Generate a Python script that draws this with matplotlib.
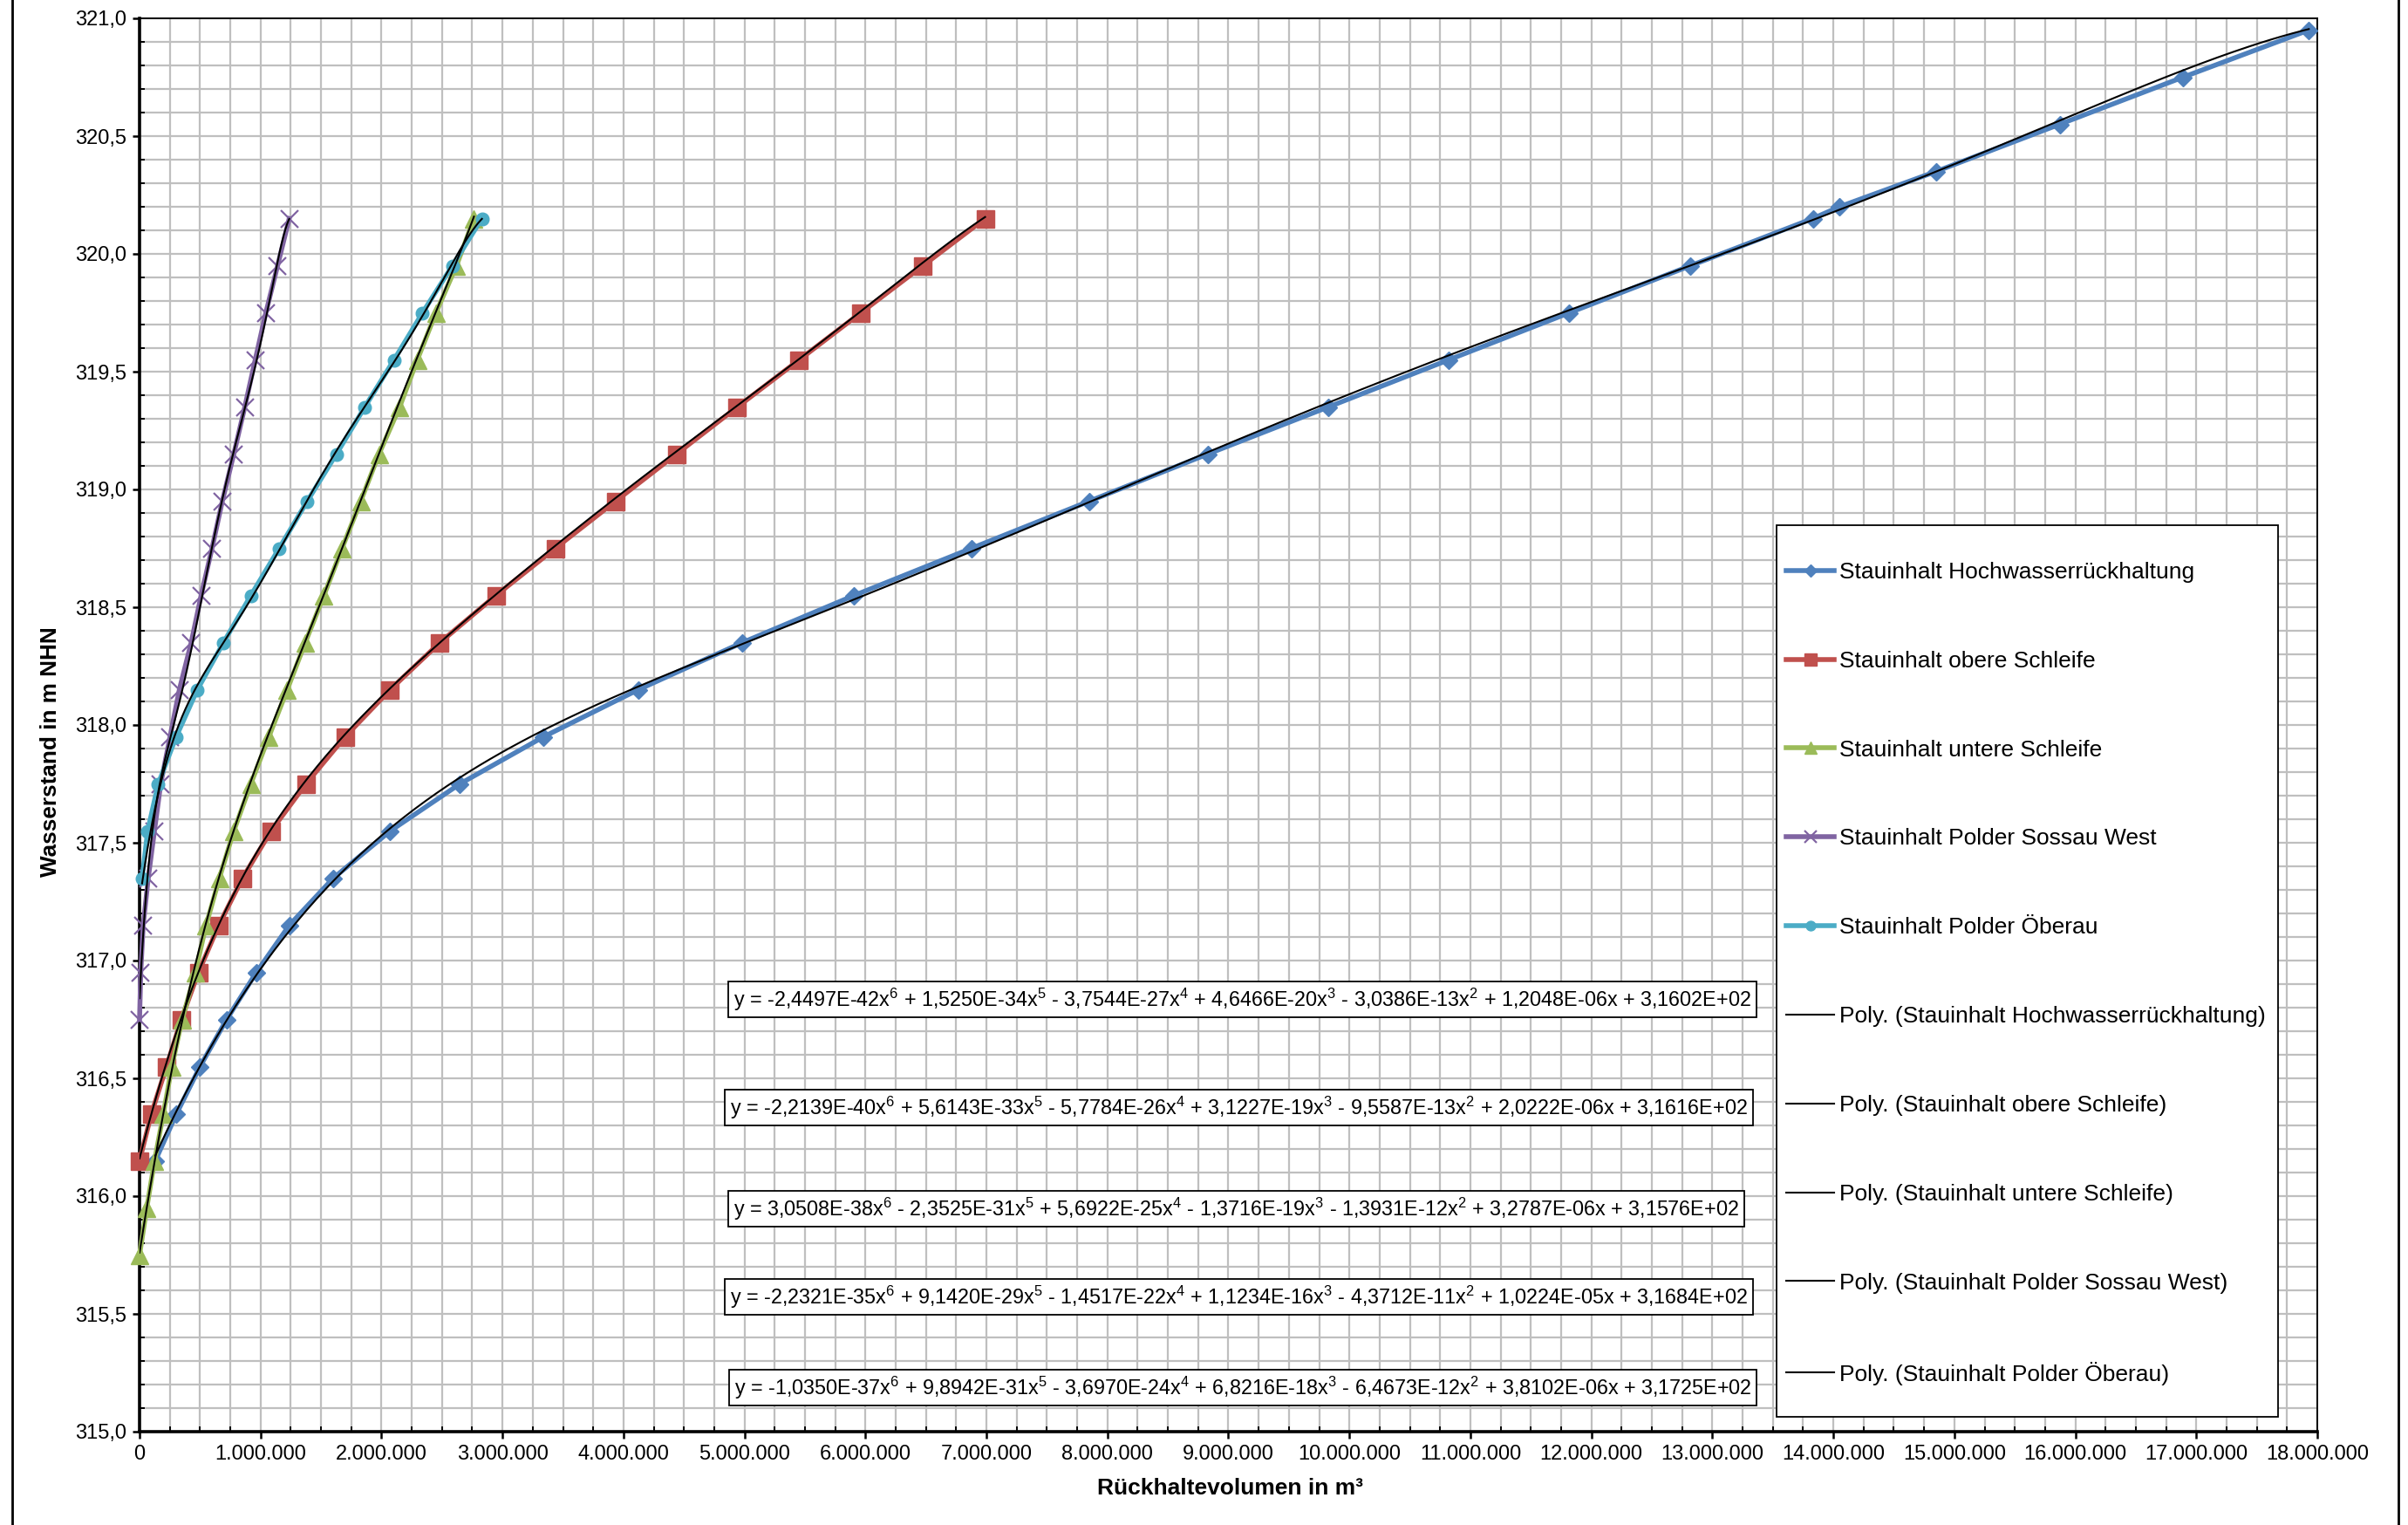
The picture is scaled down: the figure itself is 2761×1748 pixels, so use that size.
import numpy as np
import matplotlib
matplotlib.use("Agg")
import matplotlib.pyplot as plt
from matplotlib import font_manager
from matplotlib.lines import Line2D
from matplotlib.patches import Rectangle
from matplotlib.ticker import FuncFormatter, MultipleLocator

# ---------------------------------------------------------------- fonts
_installed = {f.name for f in font_manager.fontManager.ttflist}
NARROW = "Liberation Sans Narrow" if "Liberation Sans Narrow" in _installed else "Liberation Sans"
EQ_SIZE = 19 if NARROW == "Liberation Sans Narrow" else 16.8
plt.rcParams["font.family"] = ["Liberation Sans", "DejaVu Sans"]
plt.rcParams["mathtext.fontset"] = "custom"
plt.rcParams["mathtext.rm"] = NARROW
plt.rcParams["mathtext.it"] = NARROW

# ---------------------------------------------------------------- data
# Rückhaltevolumen in m³ (x) and Wasserstand in m NHN (y) per storage area
hwr_vol = [0.13e6, 0.306e6, 0.50e6, 0.72e6, 0.966e6, 1.238e6, 1.602e6, 2.072e6,
           2.648e6, 3.34e6, 4.123e6, 4.983e6, 5.907e6, 6.876e6, 7.849e6, 8.828e6,
           9.826e6, 10.82e6, 11.818e6, 12.82e6, 13.83e6, 14.05e6, 14.85e6,
           15.87e6, 16.89e6, 17.93e6]
hwr_wsp = [316.15, 316.35, 316.55, 316.75, 316.95, 317.15, 317.35, 317.55,
           317.75, 317.95, 318.15, 318.35, 318.55, 318.75, 318.95, 319.15,
           319.35, 319.55, 319.75, 319.95, 320.15, 320.20, 320.35, 320.55,
           320.75, 320.95]

obere_vol = [0.0, 0.098e6, 0.223e6, 0.345e6, 0.487e6, 0.655e6, 0.851e6, 1.087e6,
             1.375e6, 1.699e6, 2.072e6, 2.483e6, 2.946e6, 3.436e6, 3.934e6,
             4.437e6, 4.941e6, 5.452e6, 5.962e6, 6.475e6, 6.989e6]
obere_wsp = [316.15, 316.35, 316.55, 316.75, 316.95, 317.15, 317.35, 317.55,
             317.75, 317.95, 318.15, 318.35, 318.55, 318.75, 318.95, 319.15,
             319.35, 319.55, 319.75, 319.95, 320.15]

untere_vol = [0.0, 0.06e6, 0.124e6, 0.197e6, 0.267e6, 0.352e6, 0.461e6, 0.55e6,
              0.66e6, 0.779e6, 0.920e6, 1.069e6, 1.221e6, 1.370e6, 1.524e6,
              1.674e6, 1.828e6, 1.979e6, 2.15e6, 2.296e6, 2.45e6, 2.62e6, 2.764e6]
untere_wsp = [315.75, 315.95, 316.15, 316.35, 316.55, 316.75, 316.95, 317.15,
              317.35, 317.55, 317.75, 317.95, 318.15, 318.35, 318.55, 318.75,
              318.95, 319.15, 319.35, 319.55, 319.75, 319.95, 320.15]

sossau_vol = [0.0, 0.01e6, 0.03e6, 0.072e6, 0.123e6, 0.175e6, 0.252e6, 0.329e6,
              0.427e6, 0.509e6, 0.599e6, 0.684e6, 0.779e6, 0.87e6, 0.956e6,
              1.044e6, 1.141e6, 1.237e6]
sossau_wsp = [316.75, 316.95, 317.15, 317.35, 317.55, 317.75, 317.95, 318.15,
              318.35, 318.55, 318.75, 318.95, 319.15, 319.35, 319.55, 319.75,
              319.95, 320.15]

oberau_vol = [0.021e6, 0.067e6, 0.154e6, 0.303e6, 0.478e6, 0.694e6, 0.920e6,
              1.154e6, 1.386e6, 1.627e6, 1.862e6, 2.103e6, 2.339e6, 2.586e6,
              2.830e6]
oberau_wsp = [317.35, 317.55, 317.75, 317.95, 318.15, 318.35, 318.55, 318.75,
              318.95, 319.15, 319.35, 319.55, 319.75, 319.95, 320.15]

# polynomial trend coefficients (x^6 ... x^0)
hwr_coef = [-2.4497e-42, 1.5250e-34, -3.7544e-27, 4.6466e-20, -3.0386e-13, 1.2048e-06, 3.1602e+02]
obere_coef = [-2.2139e-40, 5.6143e-33, -5.7784e-26, 3.1227e-19, -9.5587e-13, 2.0222e-06, 3.1616e+02]
untere_coef = [3.0508e-38, -2.3525e-31, 5.6922e-25, -1.3716e-19, -1.3931e-12, 3.2787e-06, 3.1576e+02]
sossau_coef = [-2.2321e-35, 9.1420e-29, -1.4517e-22, 1.1234e-16, -4.3712e-11, 1.0224e-05, 3.1684e+02]
oberau_coef = [-1.0350e-37, 9.8942e-31, -3.6970e-24, 6.8216e-18, -6.4673e-12, 3.8102e-06, 3.1725e+02]

names = ["Stauinhalt Hochwasserrückhaltung", "Stauinhalt obere Schleife",
         "Stauinhalt untere Schleife", "Stauinhalt Polder Sossau West",
         "Stauinhalt Polder Öberau"]

x_ticks = np.arange(0, 18_000_001, 1_000_000)
y_ticks = np.arange(315.0, 321.01, 0.5)

# ---------------------------------------------------------------- styles
series = [
    (hwr_vol, hwr_wsp, hwr_coef, "#4F81BD", "D", 10, 1.0),
    (obere_vol, obere_wsp, obere_coef, "#C0504D", "s", 14, 1.0),
    (untere_vol, untere_wsp, untere_coef, "#9BBB59", "^", 14, 1.0),
    (sossau_vol, sossau_wsp, sossau_coef, "#8064A2", "x", 14, 1.6),
    (oberau_vol, oberau_wsp, oberau_coef, "#4BACC6", "o", 10.5, 1.0),
]

W, H = 2761, 1748
fig = plt.figure(figsize=(W / 100, H / 100), dpi=100)
ax_l, ax_r, ax_t, ax_b = 160, 2657, 21, 1641
ax = fig.add_axes([ax_l / W, 1 - ax_b / H, (ax_r - ax_l) / W, (ax_b - ax_t) / H])

ax.set_xlim(0, 18_000_000)
ax.set_ylim(315.0, 321.0)
ax.set_xticks(x_ticks)
ax.set_yticks(y_ticks)
ax.xaxis.set_minor_locator(MultipleLocator(250_000))
ax.yaxis.set_minor_locator(MultipleLocator(0.1))
ax.xaxis.set_major_formatter(FuncFormatter(lambda v, p: f"{int(round(v)):,}".replace(",", ".")))
ax.yaxis.set_major_formatter(FuncFormatter(lambda v, p: f"{v:.1f}".replace(".", ",")))

ax.set_axisbelow(True)
ax.grid(which="both", color="#BFBFBF", lw=1.6)
ax.tick_params(which="major", direction="out", length=5.5, width=1.8, labelsize=17, pad=5)
ax.tick_params(which="minor", direction="in", length=4, width=1.4)
for side in ("left", "bottom"):
    ax.spines[side].set_linewidth(2.6)
for side in ("top", "right"):
    ax.spines[side].set_linewidth(1.4)

series_handles = []
trend_handles = []
for (vol, wsp, coef, color, marker, ms, mew), name in zip(series, names):
    ln, = ax.plot(vol, wsp, color=color, lw=4, marker=marker, ms=ms, mew=mew,
                  mfc=color, mec=color, clip_on=False, zorder=3, label=name)
    series_handles.append(ln)
for (vol, wsp, coef, *_), name in zip(series, names):
    xs = np.linspace(min(vol), max(vol), 400)
    tl, = ax.plot(xs, np.polyval(coef, xs), color="black", lw=1.5, zorder=4,
                  label=f"Poly. ({name})")
    trend_handles.append(tl)

# ---------------------------------------------------------------- legend
ax.add_patch(Rectangle((0.7517, 0.0105), 0.2303, 0.6309, transform=ax.transAxes,
                       fc="white", ec="black", lw=1.3, zorder=4.8))
handles = series_handles + trend_handles
leg = ax.legend(handles, [h.get_label() for h in handles], loc="upper left",
                bbox_to_anchor=(0.7561, 0.6155), bbox_transform=ax.transAxes,
                frameon=False, fontsize=19, handlelength=2.1, handletextpad=0.2,
                labelspacing=2.95, borderpad=0, borderaxespad=0, markerscale=0.75)
leg.set_zorder(5)


# ---------------------------------------------------------------- equations
def sup(n):
    return f"x$^{{{n}}}$" if n > 1 else "x"


def equation(coef):
    parts = []
    deg = len(coef) - 1
    for i, c in enumerate(coef):
        n = deg - i
        mant = f"{abs(c):.4E}".replace(".", ",")
        term = mant + (sup(n) if n > 0 else "")
        if i == 0:
            parts.append(("-" if c < 0 else "") + term)
        else:
            parts.append((" - " if c < 0 else " + ") + term)
    return "y = " + "".join(parts)


eq_x = [0.2727, 0.2711, 0.2727, 0.2711, 0.2731]
eq_y = [0.3059, 0.2293, 0.1577, 0.0954, 0.0312]
for (vol, wsp, coef, *_), xf, yf in zip(series, eq_x, eq_y):
    ax.text(xf, yf, equation(coef), transform=ax.transAxes, ha="left", va="center",
            fontsize=EQ_SIZE, family=[NARROW, "DejaVu Sans"], zorder=6,
            bbox=dict(boxstyle="square,pad=0.25", fc="white", ec="black", lw=1.3))

# ---------------------------------------------------------------- labels & frame
fig.text(58 / W, 1 - 862 / H, "Wasserstand in m NHN", rotation=90, fontsize=18.8,
         fontweight="bold", ha="center", va="center")
fig.text(1410 / W, 1 - 1706 / H, "Rückhaltevolumen in m³", fontsize=19,
         fontweight="bold", ha="center", va="center")
for xpx in (14, 2750):
    fig.add_artist(Line2D([xpx / W, xpx / W], [0, 1], transform=fig.transFigure,
                          color="black", lw=2))

fig.savefig("out.png", dpi=100, facecolor="white")
